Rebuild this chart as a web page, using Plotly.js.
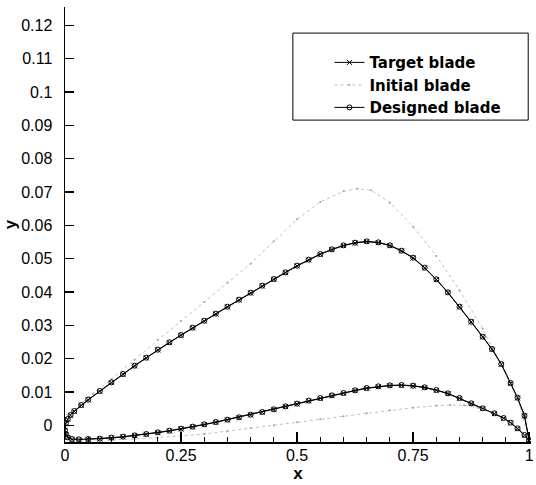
<!DOCTYPE html>
<html>
<head>
<meta charset="utf-8">
<script src="https://cdn.plot.ly/plotly-3.0.1.min.js"></script>
<style>html,body{margin:0;padding:0;background:#fff;}#chart{width:536px;height:485px;}</style>
</head>
<body>
<div id="chart"></div>
<script>
// Target blade: lower surface (trailing edge -> leading edge), then upper surface (leading edge -> trailing edge)
var targetLowerX = [1.0, 0.99, 0.975, 0.96, 0.945, 0.925, 0.9, 0.875, 0.85, 0.825, 0.8, 0.775, 0.75, 0.725, 0.7, 0.675, 0.65, 0.625, 0.6, 0.575, 0.55, 0.525, 0.5, 0.475, 0.45, 0.425, 0.4, 0.375, 0.35, 0.325, 0.3, 0.275, 0.25, 0.225, 0.2, 0.175, 0.15, 0.125, 0.1, 0.075, 0.05, 0.03, 0.015, 0.006, 0.002, 0];
var targetLowerY = [-0.0045, -0.003, -0.001, 0.0007, 0.0021, 0.0035, 0.005, 0.0065, 0.0081, 0.0095, 0.0105, 0.0113, 0.0118, 0.012, 0.0119, 0.0116, 0.0111, 0.0104, 0.0096, 0.0089, 0.0081, 0.0073, 0.0064, 0.0056, 0.0047, 0.0039, 0.0031, 0.0023, 0.0016, 0.0009, 0.0002, -0.0005, -0.0011, -0.0017, -0.0022, -0.0027, -0.0031, -0.0035, -0.0038, -0.0041, -0.0042, -0.0043, -0.0042, -0.0037, -0.0028, -0.0015];
var targetUpperX = [0.002, 0.006, 0.012, 0.02, 0.035, 0.05, 0.075, 0.1, 0.125, 0.15, 0.175, 0.2, 0.225, 0.25, 0.275, 0.3, 0.325, 0.35, 0.375, 0.4, 0.425, 0.45, 0.475, 0.5, 0.525, 0.55, 0.575, 0.6, 0.625, 0.65, 0.675, 0.7, 0.725, 0.75, 0.775, 0.8, 0.825, 0.85, 0.875, 0.9, 0.92, 0.94, 0.96, 0.975, 0.99, 1.0];
var targetUpperY = [0.0005, 0.0018, 0.003, 0.0042, 0.006, 0.0076, 0.0102, 0.0128, 0.0153, 0.0178, 0.0202, 0.0226, 0.0248, 0.027, 0.0292, 0.0313, 0.0334, 0.0355, 0.0376, 0.0397, 0.0418, 0.0438, 0.0458, 0.0478, 0.0496, 0.0513, 0.0527, 0.0539, 0.0547, 0.0551, 0.0548, 0.0539, 0.0523, 0.0502, 0.0472, 0.0437, 0.0398, 0.0355, 0.031, 0.0265, 0.0228, 0.0183, 0.0126, 0.0082, 0.0028, -0.0045];

// Initial blade
var initialLowerX = [1.0, 0.98, 0.95, 0.92, 0.89, 0.86, 0.83, 0.8, 0.75, 0.7, 0.65, 0.6, 0.55, 0.5, 0.45, 0.4, 0.35, 0.3, 0.25, 0.2, 0.15, 0.1, 0.05, 0.02, 0.005, 0];
var initialLowerY = [-0.0045, -0.0015, 0.0015, 0.0038, 0.0053, 0.006, 0.0061, 0.0059, 0.0053, 0.0045, 0.0036, 0.0027, 0.0018, 0.0009, 0.0, -0.0009, -0.0018, -0.0026, -0.0032, -0.0037, -0.0041, -0.0043, -0.0044, -0.0042, -0.0033, -0.0015];
var initialUpperX = [0.005, 0.015, 0.03, 0.06, 0.1, 0.15, 0.2, 0.25, 0.3, 0.35, 0.4, 0.45, 0.5, 0.55, 0.6, 0.63, 0.66, 0.7, 0.75, 0.8, 0.85, 0.9, 0.95, 0.98, 1.0];
var initialUpperY = [0.0015, 0.0035, 0.006, 0.0095, 0.0138, 0.0197, 0.0256, 0.0313, 0.037, 0.0428, 0.0485, 0.0552, 0.0618, 0.067, 0.0702, 0.071, 0.0705, 0.0668, 0.0596, 0.0508, 0.0405, 0.029, 0.0155, 0.006, -0.0045];

// Designed blade
var designedLowerX = [1.0, 0.99, 0.975, 0.96, 0.945, 0.925, 0.9, 0.875, 0.85, 0.825, 0.8, 0.775, 0.75, 0.725, 0.7, 0.675, 0.65, 0.625, 0.6, 0.575, 0.55, 0.525, 0.5, 0.475, 0.45, 0.425, 0.4, 0.375, 0.35, 0.325, 0.3, 0.275, 0.25, 0.225, 0.2, 0.175, 0.15, 0.125, 0.1, 0.075, 0.05, 0.03, 0.015, 0.006, 0.002, 0];
var designedLowerY = [-0.0045, -0.0029, -0.0009, 0.0008, 0.0022, 0.0036, 0.0051, 0.0066, 0.0082, 0.0096, 0.0106, 0.0114, 0.0119, 0.0121, 0.012, 0.0117, 0.0112, 0.0105, 0.0097, 0.009, 0.0082, 0.0074, 0.0065, 0.0057, 0.0048, 0.004, 0.0032, 0.0024, 0.0017, 0.001, 0.0003, -0.0004, -0.001, -0.0016, -0.0021, -0.0026, -0.003, -0.0034, -0.0037, -0.004, -0.0041, -0.0042, -0.0041, -0.0036, -0.0027, -0.0015];
var designedUpperX = [0.002, 0.006, 0.012, 0.02, 0.035, 0.05, 0.075, 0.1, 0.125, 0.15, 0.175, 0.2, 0.225, 0.25, 0.275, 0.3, 0.325, 0.35, 0.375, 0.4, 0.425, 0.45, 0.475, 0.5, 0.525, 0.55, 0.575, 0.6, 0.625, 0.65, 0.675, 0.7, 0.725, 0.75, 0.775, 0.8, 0.825, 0.85, 0.875, 0.9, 0.92, 0.94, 0.96, 0.975, 0.99, 1.0];
var designedUpperY = [0.0006, 0.0019, 0.0031, 0.0043, 0.0061, 0.0077, 0.0103, 0.0129, 0.0154, 0.0179, 0.0203, 0.0227, 0.0249, 0.0271, 0.0293, 0.0314, 0.0335, 0.0356, 0.0377, 0.0398, 0.0419, 0.0439, 0.0459, 0.0479, 0.0497, 0.0514, 0.0528, 0.054, 0.0548, 0.0552, 0.0549, 0.054, 0.0524, 0.0503, 0.0473, 0.0438, 0.0399, 0.0356, 0.0311, 0.0266, 0.0229, 0.0184, 0.0127, 0.0083, 0.0029, -0.0045];

var seriesNames = ["Target blade", "Initial blade", "Designed blade"];
var xTicks = [0, 0.25, 0.5, 0.75, 1];
var xTickLabels = ["0", "0.25", "0.5", "0.75", "1"];

var FONT = "Liberation Sans, Arial, Helvetica, sans-serif";
var LEGFONT = "DejaVu Sans, Liberation Sans, Arial, sans-serif";

var traces = [
  {
    x: targetLowerX.concat(targetUpperX), y: targetLowerY.concat(targetUpperY),
    name: seriesNames[0], mode: "lines+markers", type: "scatter",
    line: {color: "#000", width: 1},
    marker: {symbol: "x-thin-open", size: 5, color: "#000", line: {color: "#000", width: 1}}
  },
  {
    x: initialLowerX.concat(initialUpperX), y: initialLowerY.concat(initialUpperY),
    name: seriesNames[1], mode: "lines+markers", type: "scatter",
    line: {color: "#c0c0c0", width: 1, dash: "dot"},
    marker: {symbol: "circle", size: 2, color: "#a0a0a0"}
  },
  {
    x: designedLowerX.concat(designedUpperX), y: designedLowerY.concat(designedUpperY),
    name: seriesNames[2], mode: "lines+markers", type: "scatter",
    line: {color: "#000", width: 1},
    marker: {symbol: "circle-open", size: 5, color: "#000", line: {color: "#000", width: 1}}
  }
];

var layout = {
  width: 536, height: 485,
  margin: {l: 65, r: 5, t: 7, b: 43, pad: 0},
  paper_bgcolor: "#fff", plot_bgcolor: "#fff",
  font: {family: FONT, color: "#000", size: 14},
  showlegend: true,
  legend: {
    x: 0.5675, y: 0.91, xanchor: "left", yanchor: "top",
    bgcolor: "rgba(0,0,0,0)", borderwidth: 0,
    font: {family: LEGFONT, size: 15, color: "#000", weight: "bold"},
    tracegroupgap: 0
  },
  shapes: [{
    type: "rect", xref: "paper", yref: "paper",
    x0: 0.489, x1: 0.994, y0: 0.74, y1: 0.94,
    line: {color: "#000", width: 1}, fillcolor: "rgba(0,0,0,0)"
  }],
  xaxis: {
    range: [0, 1.004], tickvals: xTicks, ticktext: xTickLabels,
    showgrid: false, zeroline: false, showline: true, linecolor: "#000", linewidth: 1.5,
    ticks: "inside", ticklen: 10, tickwidth: 1.5, tickcolor: "#000",
    minor: {dtick: 0.05, tick0: 0, ticks: "inside", ticklen: 5, tickwidth: 1, tickcolor: "#000", showgrid: false},
    tickfont: {family: FONT, size: 16, color: "#000"},
    ticklabeloverflow: "allow",
    ticklabelstandoff: -2,
    title: {text: "x", font: {family: FONT, size: 17, color: "#000", weight: "bold"}, standoff: 0},
    mirror: false
  },
  yaxis: {
    range: [-0.005, 0.1255], dtick: 0.01, tick0: 0,
    showgrid: false, zeroline: false, showline: true, linecolor: "#000", linewidth: 1.5,
    ticks: "inside", ticklen: 9, tickwidth: 1.5, tickcolor: "#000",
    tickfont: {family: FONT, size: 16, color: "#000"},
    ticklabelstandoff: 8,
    title: {text: "y", font: {family: FONT, size: 17, color: "#000", weight: "bold"}, standoff: 0},
    mirror: false
  }
};

Plotly.newPlot("chart", traces, layout, {displayModeBar: false, staticPlot: true});
</script>
</body>
</html>
